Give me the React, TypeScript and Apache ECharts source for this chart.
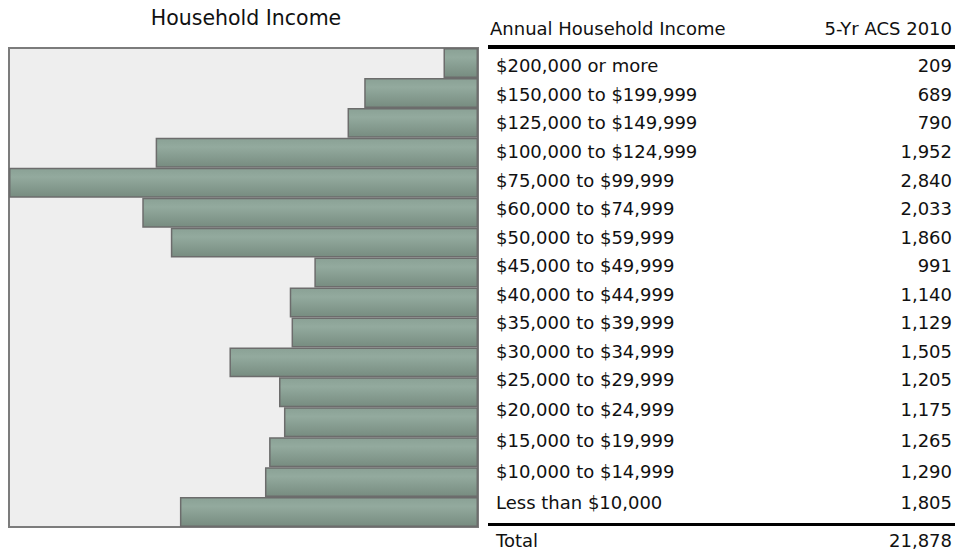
import React, { useEffect, useRef } from "react";
import * as echarts from "echarts";

const categories = [
  "$200,000 or more",
  "$150,000 to $199,999",
  "$125,000 to $149,999",
  "$100,000 to $124,999",
  "$75,000 to $99,999",
  "$60,000 to $74,999",
  "$50,000 to $59,999",
  "$45,000 to $49,999",
  "$40,000 to $44,999",
  "$35,000 to $39,999",
  "$30,000 to $34,999",
  "$25,000 to $29,999",
  "$20,000 to $24,999",
  "$15,000 to $19,999",
  "$10,000 to $14,999",
  "Less than $10,000",
];
const households = [209, 689, 790, 1952, 2840, 2033, 1860, 991, 1140, 1129, 1505, 1205, 1175, 1265, 1290, 1805];
const totalHouseholds = 21878;
const chartTitle = "Household Income";
const colHeaderLeft = "Annual Household Income";
const colHeaderRight = "5-Yr ACS 2010";
const totalLabel = "Total";

// layout (row text centres in px)
const rowY = [65, 94, 122, 151, 180, 208, 237, 265, 294, 322, 351, 379, 409, 440, 471, 502];

const FONT = "Verdana, 'DejaVu Sans', sans-serif";
const fmt = (n: number) => n.toLocaleString("en-US");

export default function App() {
  const ref = useRef<HTMLDivElement>(null);
  useEffect(() => {
    if (!ref.current) return;
    const chart = echarts.init(ref.current, null, { renderer: "svg" });
    const maxVal = Math.max(...households);
    const textStyle = (extra: any) => ({
      fontFamily: FONT,
      fontSize: 18,
      fill: "#111",
      textVerticalAlign: "middle",
      ...extra,
    });
    const graphics: any[] = [];
    graphics.push({
      type: "text",
      x: 246,
      y: 18,
      style: textStyle({ text: chartTitle, textAlign: "center", fontSize: 20.5 }),
    });
    graphics.push({ type: "text", x: 490, y: 28, style: textStyle({ text: colHeaderLeft, textAlign: "left" }) });
    graphics.push({ type: "text", x: 952, y: 28, style: textStyle({ text: colHeaderRight, textAlign: "right" }) });
    graphics.push({ type: "rect", shape: { x: 488, y: 45, width: 467, height: 4 }, style: { fill: "#000" } });
    categories.forEach((c, i) => {
      graphics.push({ type: "text", x: 496, y: rowY[i], style: textStyle({ text: c, textAlign: "left" }) });
      graphics.push({ type: "text", x: 952, y: rowY[i], style: textStyle({ text: fmt(households[i]), textAlign: "right" }) });
    });
    graphics.push({ type: "rect", shape: { x: 488, y: 523, width: 467, height: 3 }, style: { fill: "#000" } });
    graphics.push({ type: "text", x: 496, y: 540, style: textStyle({ text: totalLabel, textAlign: "left" }) });
    graphics.push({ type: "text", x: 952, y: 540, style: textStyle({ text: fmt(totalHouseholds), textAlign: "right" }) });

    chart.setOption({
      animation: false,
      grid: {
        left: 9,
        top: 48,
        width: 469,
        height: 479,
        show: true,
        backgroundColor: "#eeeeee",
        borderColor: "#7c7c7c",
        borderWidth: 2,
      },
      xAxis: {
        type: "value",
        inverse: true,
        min: 0,
        max: maxVal,
        show: false,
      },
      yAxis: {
        type: "category",
        data: categories,
        inverse: true,
        show: false,
      },
      series: [
        {
          type: "bar",
          data: households,
          barCategoryGap: "0%",
          itemStyle: {
            color: new echarts.graphic.LinearGradient(0, 0, 0, 1, [
              { offset: 0, color: "#8aa195" },
              { offset: 0.3, color: "#93aa9e" },
              { offset: 1, color: "#778c80" },
            ]),
            borderColor: "#6c6c6c",
            borderWidth: 1.5,
          },
        },
      ],
      graphic: graphics,
    });
    return () => chart.dispose();
  }, []);
  return <div ref={ref} style={{ width: 961, height: 553, position: "absolute", left: 0, top: 0 }} />;
}
